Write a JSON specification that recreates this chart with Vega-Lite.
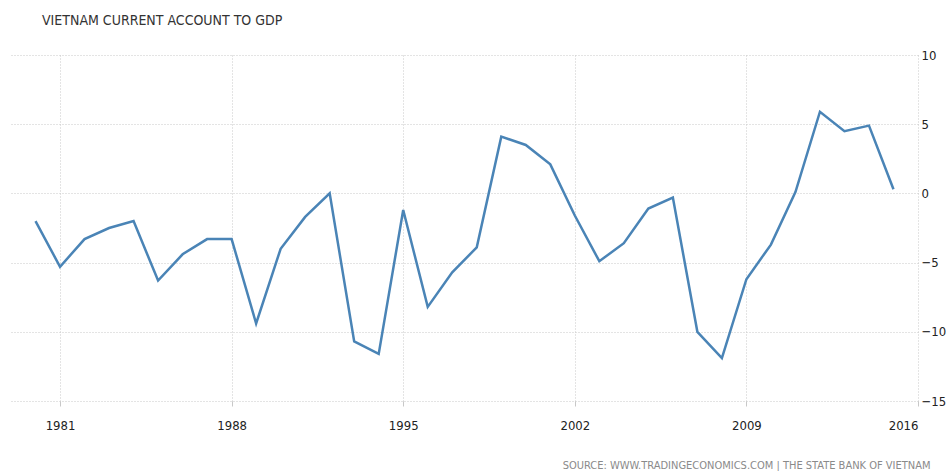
{
  "$schema": "https://vega.github.io/schema/vega-lite/v6.json",
  "autosize": {"type": "none"},
  "width": 907,
  "height": 346,
  "padding": {"left": 11, "top": 55, "right": 28, "bottom": 70},
  "background": "white",
  "title": {
    "text": "VIETNAM CURRENT ACCOUNT TO GDP",
    "anchor": "start",
    "frame": "group",
    "dx": 31,
    "offset": 10,
    "font": "DejaVu Sans Condensed, sans-serif",
    "fontSize": 14,
    "fontWeight": "normal",
    "color": "#333333",
    "baseline": "alphabetic"
  },
  "config": {
    "view": {"stroke": null},
    "axis": {
      "labelFont": "DejaVu Sans Condensed, sans-serif",
      "labelFontSize": 13,
      "labelColor": "#222222",
      "gridColor": "#c8c8c8",
      "gridDash": [1, 2],
      "gridWidth": 1,
      "domain": false
    }
  },
  "data": {
    "values": [
      {"year": 1980, "value": -2.0},
      {"year": 1981, "value": -5.3},
      {"year": 1982, "value": -3.3},
      {"year": 1983, "value": -2.5},
      {"year": 1984, "value": -2.0},
      {"year": 1985, "value": -6.3},
      {"year": 1986, "value": -4.4},
      {"year": 1987, "value": -3.3},
      {"year": 1988, "value": -3.3},
      {"year": 1989, "value": -9.4},
      {"year": 1990, "value": -4.0},
      {"year": 1991, "value": -1.7},
      {"year": 1992, "value": 0.0},
      {"year": 1993, "value": -10.7},
      {"year": 1994, "value": -11.6},
      {"year": 1995, "value": -1.2},
      {"year": 1996, "value": -8.2},
      {"year": 1997, "value": -5.7},
      {"year": 1998, "value": -3.9},
      {"year": 1999, "value": 4.1},
      {"year": 2000, "value": 3.5},
      {"year": 2001, "value": 2.1},
      {"year": 2002, "value": -1.6},
      {"year": 2003, "value": -4.9},
      {"year": 2004, "value": -3.6},
      {"year": 2005, "value": -1.1},
      {"year": 2006, "value": -0.3},
      {"year": 2007, "value": -10.0},
      {"year": 2008, "value": -11.9},
      {"year": 2009, "value": -6.2},
      {"year": 2010, "value": -3.7},
      {"year": 2011, "value": 0.1},
      {"year": 2012, "value": 5.9},
      {"year": 2013, "value": 4.5},
      {"year": 2014, "value": 4.9},
      {"year": 2015, "value": 0.3}
    ]
  },
  "mark": {"type": "line", "color": "#4a84b6", "strokeWidth": 2.5, "strokeJoin": "miter"},
  "encoding": {
    "x": {
      "field": "year",
      "type": "quantitative",
      "scale": {"domain": [1979, 2016], "nice": false, "zero": false},
      "axis": {
        "values": [1981, 1988, 1995, 2002, 2009, 2016],
        "format": "d",
        "grid": true,
        "ticks": true,
        "tickSize": 5,
        "tickColor": "#c8c8c8",
        "labelPadding": 13,
        "labelFontSize": 13,
        "title": "SOURCE: WWW.TRADINGECONOMICS.COM | THE STATE BANK OF VIETNAM",
        "titleFont": "DejaVu Sans Condensed, sans-serif",
        "titleFontSize": 11,
        "titleFontWeight": "normal",
        "titleColor": "#8a8a8a",
        "titleAnchor": "end",
        "titleAlign": "right",
        "titleX": 919,
        "titleY": 67,
        "titleBaseline": "alphabetic"
      }
    },
    "y": {
      "field": "value",
      "type": "quantitative",
      "scale": {"domain": [-15, 10], "nice": false},
      "axis": {
        "orient": "right",
        "values": [-15, -10, -5, 0, 5, 10],
        "grid": true,
        "ticks": false,
        "labelPadding": 3,
        "title": null
      }
    }
  }
}
